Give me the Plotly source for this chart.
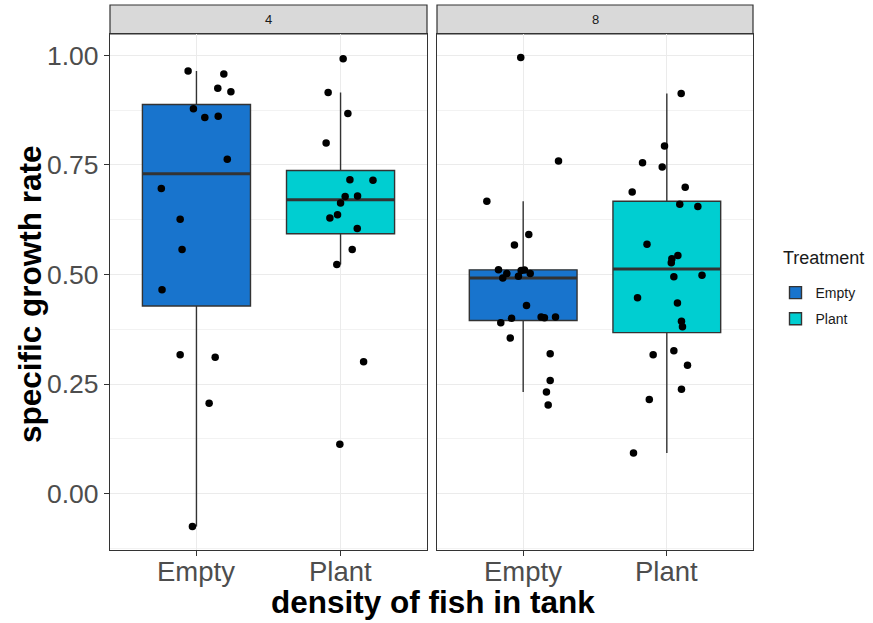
import numpy as np
import plotly.graph_objects as go

# ---------------- data ----------------
categories = ["Empty", "Plant"]
densities = ["4", "8"]
y_tick_vals = [0.0, 0.25, 0.5, 0.75, 1.0]
y_tick_text = ["0.00", "0.25", "0.50", "0.75", "1.00"]

d4_empty = [0.964, 0.957, 0.925, 0.917, 0.878, 0.858, 0.861, 0.763, 0.696, 0.626,
            0.557, 0.465, 0.317, 0.311, 0.206, -0.075]
d4_empty_jitter = [-0.058, 0.190, 0.148, 0.239, -0.021, 0.058, 0.151, 0.214, -0.244, -0.113,
                   -0.100, -0.239, -0.113, 0.130, 0.088, -0.028]

d4_plant = [0.992, 0.915, 0.867, 0.800, 0.716, 0.715, 0.678, 0.679, 0.663, 0.636,
            0.629, 0.605, 0.557, 0.523, 0.301, 0.113]
d4_plant_jitter = [0.018, -0.086, 0.051, -0.100, 0.065, 0.225, 0.032, 0.118, 0.000, -0.021,
                   -0.074, 0.116, 0.081, -0.026, 0.160, -0.005]

d8_empty = [0.995, 0.759, 0.667, 0.591, 0.567, 0.511, 0.502, 0.492, 0.496, 0.509,
            0.510, 0.502, 0.429, 0.400, 0.403, 0.401, 0.403, 0.390, 0.355, 0.319,
            0.258, 0.232, 0.202]
d8_empty_jitter = [-0.017, 0.246, -0.253, 0.039, -0.061, -0.172, -0.114, -0.142, -0.033, -0.014,
                   0.009, 0.049, 0.023, -0.081, 0.125, 0.148, 0.225, -0.156, -0.090, 0.188,
                   0.188, 0.162, 0.174]

d8_plant = [0.913, 0.793, 0.755, 0.745, 0.699, 0.688, 0.660, 0.655, 0.569, 0.543,
            0.536, 0.527, 0.495, 0.498, 0.447, 0.435, 0.393, 0.381, 0.326, 0.317,
            0.293, 0.238, 0.215, 0.093]
d8_plant_jitter = [0.100, -0.016, -0.169, -0.032, 0.128, -0.241, 0.090, 0.216, -0.138, 0.077,
                   0.035, 0.031, 0.049, 0.245, -0.204, 0.074, 0.102, 0.109, 0.049, -0.095,
                   0.144, 0.102, -0.122, -0.232]

colors = {"Empty": "#1874CD", "Plant": "#00CED1"}

groups = [
    ("4", "Empty", d4_empty, d4_empty_jitter),
    ("4", "Plant", d4_plant, d4_plant_jitter),
    ("8", "Empty", d8_empty, d8_empty_jitter),
    ("8", "Plant", d8_plant, d8_plant_jitter),
]

# ---------------- figure ----------------
fig = go.Figure()
BOX_W = 0.75
line_col = "#333333"

axis_of = {"4": ("x", "y"), "8": ("x2", "y2")}
shown = set()

for dens, cat, vals, jit in groups:
    xa, ya = axis_of[dens]
    pos = categories.index(cat) + 1
    v = np.array(vals)
    q1, med, q3 = np.percentile(v, [25, 50, 75])
    iqr = q3 - q1
    lf = v[v >= q1 - 1.5 * iqr].min()
    uf = v[v <= q3 + 1.5 * iqr].max()
    fig.add_trace(go.Box(
        x=[pos], q1=[q1], median=[med], q3=[q3], lowerfence=[lf], upperfence=[uf],
        width=BOX_W, whiskerwidth=0, boxpoints=False,
        fillcolor=colors[cat], line=dict(color=line_col, width=1.4),
        name=cat, legendgroup=cat, showlegend=(cat not in shown),
        xaxis=xa, yaxis=ya, hoverinfo="skip",
    ))
    shown.add(cat)
    # thicker median line (ggplot fatten)
    fig.add_trace(go.Scatter(
        x=[pos - BOX_W / 2, pos + BOX_W / 2], y=[med, med], mode="lines",
        line=dict(color=line_col, width=3), showlegend=False,
        xaxis=xa, yaxis=ya, hoverinfo="skip",
    ))

for dens, cat, vals, jit in groups:
    xa, ya = axis_of[dens]
    pos = categories.index(cat) + 1
    fig.add_trace(go.Scatter(
        x=[pos + j for j in jit], y=vals, mode="markers",
        marker=dict(color="black", size=7.5), showlegend=False,
        xaxis=xa, yaxis=ya,
    ))

L, R, T, B = 110, 120, 5, 73
W, H = 873, 623
pw = W - L - R
ph = H - T - B
panel_top = (550 - 34) / ph
d1 = [0, 317 / pw]
d2 = [(437 - L) / pw, 1]

xcommon = dict(range=[0.4, 2.6], tickvals=[1, 2], showticklabels=False,
               showgrid=True, gridcolor="#EBEBEB", gridwidth=1.2, zeroline=False,
               showline=True, mirror=True, linecolor=line_col, linewidth=1.2,
               ticks="outside", ticklen=5, tickcolor=line_col, automargin=False)
ycommon = dict(range=[-0.1285, 1.0485], tickvals=y_tick_vals,
               showgrid=True, gridcolor="#EBEBEB", gridwidth=1.2, zeroline=False,
               showline=True, mirror=True, linecolor=line_col, linewidth=1.2,
               minor=dict(tickvals=[-0.125, 0.125, 0.375, 0.625, 0.875], showgrid=True,
                          gridcolor="#F2F2F2", gridwidth=0.6, ticks=""),
               domain=[0, panel_top], automargin=False)

fig.update_layout(
    width=W, height=H,
    margin=dict(l=L, r=R, t=T, b=B, autoexpand=False),
    paper_bgcolor="white", plot_bgcolor="white",
    font=dict(family="Liberation Sans, Arial, sans-serif", color="#1A1A1A"),
    xaxis=dict(domain=d1, anchor="y", **xcommon),
    xaxis2=dict(domain=d2, anchor="y2", **xcommon),
    yaxis=dict(anchor="x", ticktext=y_tick_text, ticks="outside", ticklen=5,
               tickcolor=line_col, tickfont=dict(size=26.5, color="#4D4D4D"), **ycommon),
    yaxis2=dict(anchor="x2", matches="y", showticklabels=False, ticks="", **ycommon),
    legend=dict(x=1.035, y=(550 - 277) / ph, xanchor="left", yanchor="top",
                font=dict(size=14, color="#1A1A1A"), tracegroupgap=5),
    showlegend=True,
)

# x tick labels (per panel)
for xa in ["x", "x2"]:
    for i, cat in enumerate(categories):
        fig.add_annotation(text=cat, xref=xa, yref="paper", x=i + 1, y=(550 - 571) / ph,
                           xanchor="center", yanchor="middle", showarrow=False,
                           font=dict(size=27.5, color="#4D4D4D"))

# facet strips
for dom, lab in zip([d1, d2], densities):
    fig.add_shape(type="rect", xref="paper", yref="paper",
                  x0=dom[0], x1=dom[1], y0=panel_top, y1=1.0,
                  fillcolor="#D9D9D9", line=dict(color=line_col, width=1.2), layer="below")
    fig.add_annotation(text=lab, xref="paper", yref="paper",
                       x=(dom[0] + dom[1]) / 2, y=(panel_top + 1) / 2,
                       xanchor="center", yanchor="middle", showarrow=False,
                       font=dict(size=13, color="#1A1A1A"))

# legend title
fig.add_annotation(text="Treatment", xref="paper", yref="paper",
                   x=(781 - L) / pw, y=(550 - 258) / ph, xanchor="left", yanchor="middle",
                   showarrow=False, font=dict(size=18, color="#1A1A1A"))

# axis titles
fig.add_annotation(text="<b>density of fish in tank</b>", xref="paper", yref="paper",
                   x=(433 - L) / pw, y=(550 - 602) / ph, xanchor="center", yanchor="middle",
                   showarrow=False, font=dict(size=31.5, color="black"))
fig.add_annotation(text="<b>specific growth rate</b>", xref="paper", yref="paper",
                   x=(30 - L) / pw, y=(550 - 294) / ph, xanchor="center", yanchor="middle",
                   textangle=-90, showarrow=False, font=dict(size=31.5, color="black"))

fig.write_html("out.html", config={"displayModeBar": False},
               post_script="document.body.style.margin='0';document.body.style.overflow='hidden';")
